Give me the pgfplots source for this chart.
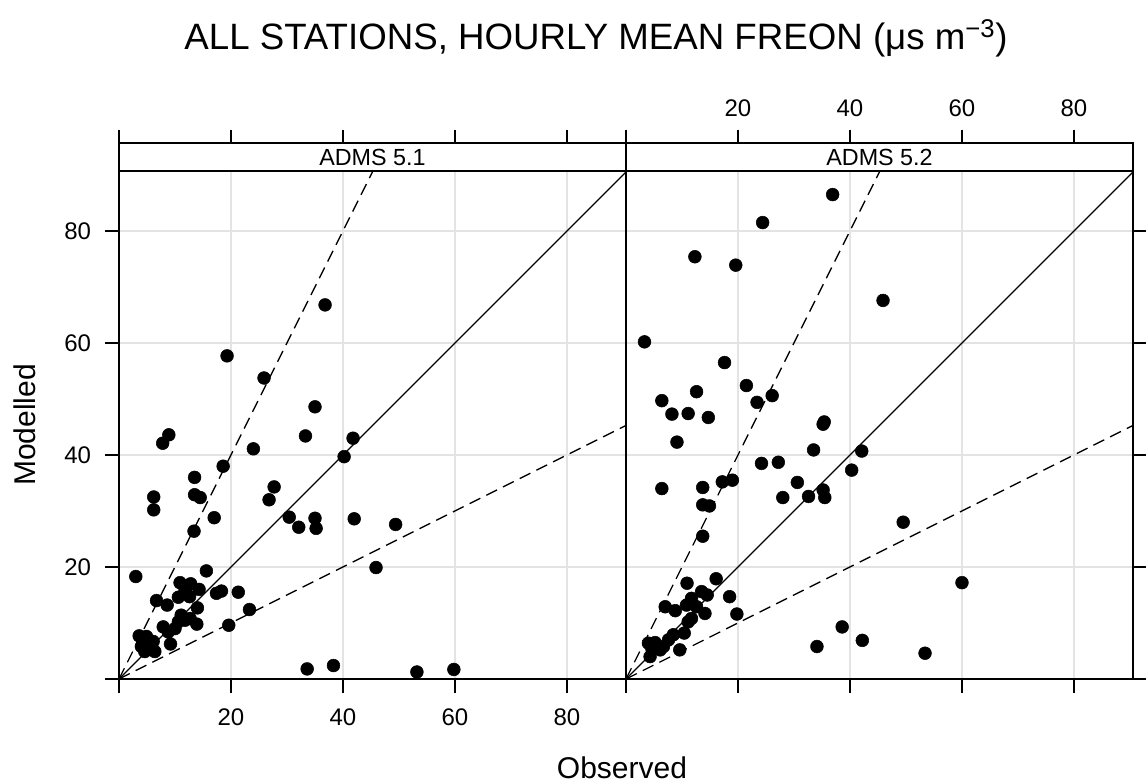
\documentclass[border=0pt]{standalone}
\usepackage{fontspec}
\setmainfont{Liberation Sans}
\usepackage{pgfplots}
\pgfplotsset{compat=1.18}
\begin{document}
\begin{tikzpicture}
\useasboundingbox (-89.25pt,-78.75pt) rectangle (770.25pt,509.25pt);
\pgfplotsset{
  panel/.style={scale only axis, width=380.25pt, height=381pt, anchor=south west,
    xmin=0, xmax=90.54, ymin=0, ymax=90.71,
    xtick={0,20,40,60,80}, ytick={0,20,40,60,80},
    tick align=outside, major tick length=10.5pt,
    grid=major, grid style={color=black!11, line width=1.2pt},
    axis line style={line width=0.9pt},
    every tick/.style={black, line width=0.9pt},
    tick label style={font=\fontsize{18}{20}\selectfont},
    xticklabel shift=8pt, yticklabel shift=7pt,
    /pgf/number format/assume math mode=true},
  strip/.style={scale only axis, width=380.25pt, height=21pt, anchor=south west,
    xmin=0, xmax=90.54, ymin=0, ymax=1,
    xtick={0,20,40,60,80}, ytick=\empty, xtick pos=right,
    tick align=outside, major tick length=10pt,
    axis line style={line width=0.9pt},
    every tick/.style={black, line width=0.9pt},
    xticklabel shift=6pt,
    tick label style={font=\fontsize{18}{20}\selectfont}},
  pts/.style={only marks, mark=*, mark size=4.8pt, black, mark options={draw=black, fill=black}},
  refl/.style={black, line width=1pt, no marks},
  refd/.style={black, line width=1pt, no marks, dash pattern=on 9pt off 5pt},
}
% ---------- left panel ----------
\begin{axis}[panel, at={(0pt,0pt)}, xtick pos=left, ytick pos=left,
  xticklabels={,20,40,60,80}, yticklabels={,20,40,60,80}]
\addplot[refl] coordinates {(0,0) (100,100)};
\addplot[refd] coordinates {(0,0) (50,100)};
\addplot[refd] coordinates {(0,0) (100,50)};
\addplot[pts] coordinates {
(35.0,48.6) (8.9,43.6) (7.8,42.1) (33.3,43.4) (41.8,43.0) (24.0,41.1)
(40.2,39.7) (18.6,38.0) (13.5,36.0) (27.7,34.3) (26.8,32.0) (6.2,32.5)
(6.2,30.2) (13.5,32.9) (14.5,32.4) (17.0,28.8) (30.4,28.9) (32.1,27.1)
(35.0,28.7) (35.2,26.9) (42.0,28.6) (13.4,26.4) (3.0,18.3) (15.6,19.3)
(10.9,17.2) (12.8,17.0) (14.3,16.0) (10.6,14.6) (12.6,14.7) (11.8,15.9)
(17.4,15.3) (18.3,15.7) (21.3,15.5) (6.7,14.0) (8.6,13.2) (14.0,12.7)
(23.3,12.4) (11.1,11.4) (12.7,10.8) (10.6,10.2) (11.8,10.5) (13.9,9.8)
(19.6,9.6) (7.9,9.3) (10.0,9.0) (8.8,8.4) (9.2,6.25) (3.6,7.7)
(4.9,7.6) (4.0,5.8) (5.5,5.4) (4.6,4.9) (6.4,4.9) (6.1,6.7)
(4.3,6.7) (33.6,1.8) (38.3,2.4) (49.4,27.6) (45.9,19.9) (53.2,1.25)
(59.8,1.7) (36.8,66.8) (19.3,57.7) (25.9,53.75)
};
\end{axis}
% ---------- right panel ----------
\begin{axis}[panel, at={(380.25pt,0pt)}, xtick pos=left, ytick pos=right,
  xticklabels={,,,,}, yticklabels={,,,,}]
\addplot[refl] coordinates {(0,0) (100,100)};
\addplot[refd] coordinates {(0,0) (50,100)};
\addplot[refd] coordinates {(0,0) (100,50)};
\addplot[pts] coordinates {
(36.9,86.5) (24.4,81.5) (12.3,75.4) (19.6,73.9) (3.3,60.2) (45.9,67.6)
(17.6,56.5) (12.6,51.3) (21.5,52.4) (26.1,50.6) (23.4,49.4) (6.4,49.7)
(8.2,47.3) (11.1,47.4) (14.7,46.7) (9.1,42.3) (35.2,45.5) (35.4,45.9)
(33.5,40.9) (42.1,40.7) (40.3,37.3) (24.2,38.5) (27.2,38.7) (30.6,35.1)
(28.0,32.4) (32.6,32.6) (35.2,33.75) (35.5,32.4) (6.4,34.0) (13.7,34.2)
(17.2,35.2) (19.0,35.5) (13.7,31.1) (14.9,30.9) (13.7,25.5) (16.1,17.9)
(10.9,17.1) (18.5,14.7) (19.8,11.6) (7.0,12.9) (8.8,12.2) (13.5,15.6)
(14.5,15.0) (11.7,14.4) (10.8,13.2) (12.6,12.9) (14.1,11.7) (11.7,10.8)
(11.1,10.2) (10.4,8.2) (8.45,7.9) (9.6,5.2) (4.0,6.4) (5.2,6.5)
(6.7,5.8) (4.6,5.5) (6.1,5.2) (4.3,4.0) (7.6,7.0) (38.6,9.3)
(34.1,5.8) (42.2,6.9) (49.5,28.0) (60.0,17.2) (53.4,4.6)
};
\end{axis}
% ---------- strips ----------
\begin{axis}[strip, at={(0pt,381pt)}, xticklabels={,,,,}]
\node[font=\fontsize{17.5}{20}\selectfont] at (axis description cs:0.5,0.5) {ADMS 5.1};
\end{axis}
\begin{axis}[strip, at={(380.25pt,381pt)}, xticklabels={,20,40,60,80}]
\node[font=\fontsize{17.5}{20}\selectfont] at (axis description cs:0.5,0.5) {ADMS 5.2};
\end{axis}
% ---------- titles ----------
\node[font=\fontsize{27.5}{31}\selectfont] at (357.75pt,480.75pt)
  {ALL STATIONS, HOURLY MEAN FREON (μs m\textsuperscript{−3})};
\node[font=\fontsize{22.5}{26}\selectfont] at (377.25pt,-66.75pt) {Observed};
\node[font=\fontsize{22.5}{26}\selectfont, rotate=90] at (-70.5pt,190.5pt) {Modelled};
\end{tikzpicture}
\end{document}
